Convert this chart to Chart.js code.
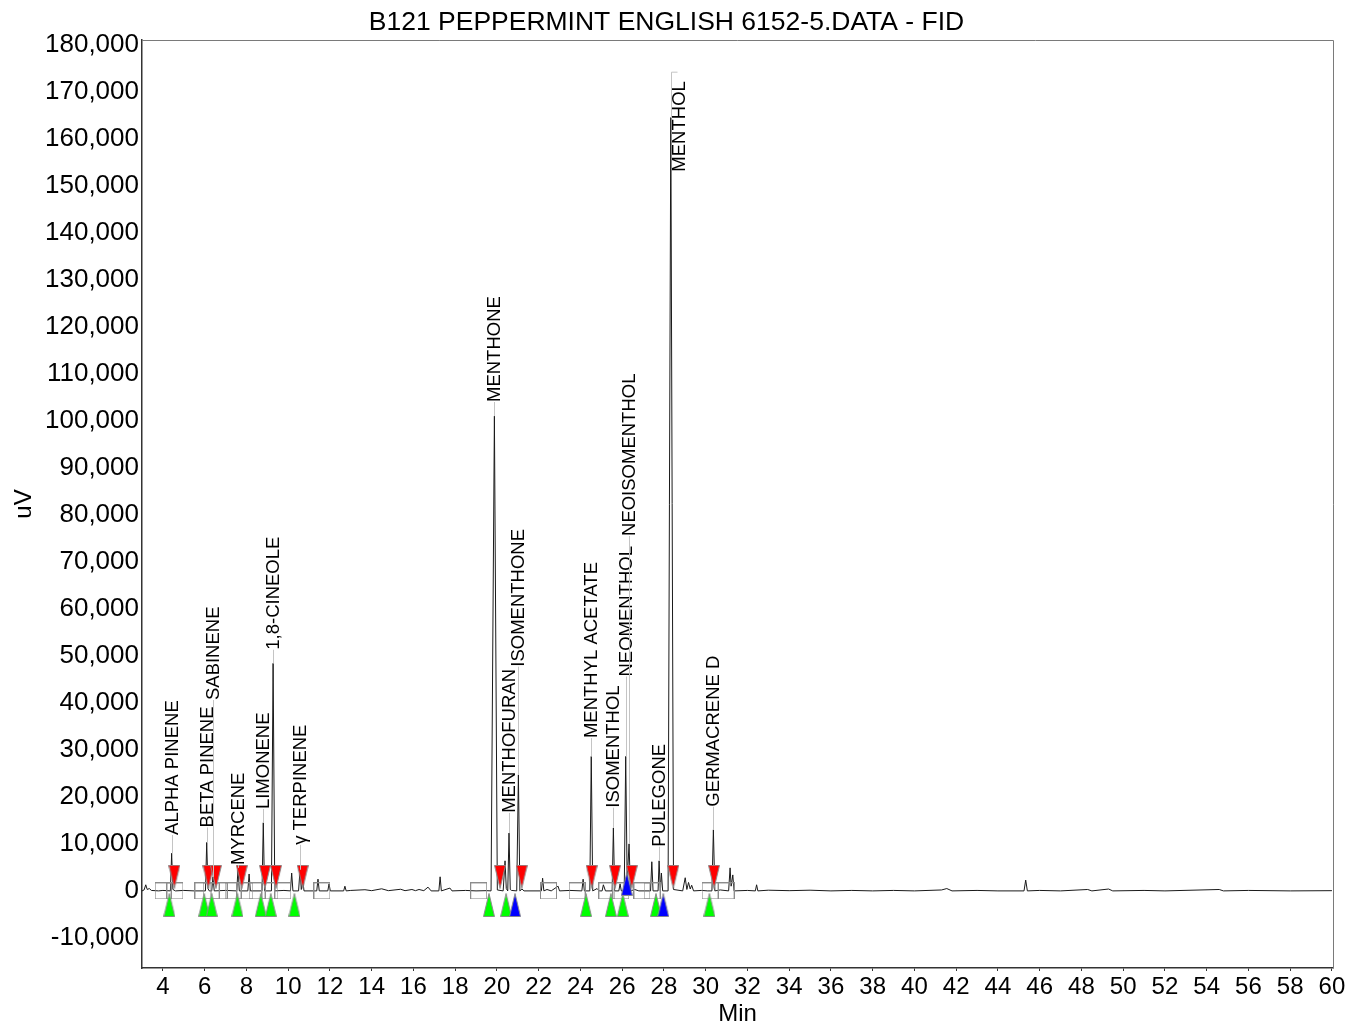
<!DOCTYPE html>
<html>
<head>
<meta charset="utf-8">
<title>B121 PEPPERMINT ENGLISH 6152-5.DATA - FID</title>
<script src="https://cdn.jsdelivr.net/npm/chart.js@4.4.1/dist/chart.umd.min.js"></script>
<style>
  html, body { margin: 0; padding: 0; background: #fff; }
</style>
</head>
<body>
<canvas id="fid" width="1349" height="1022"></canvas>
<script>
// FID trace: retention time (min) and signal (uV)
const traceTime = [
  3.00, 3.10, 3.18, 3.25, 3.35, 3.45, 3.80, 4.00,
  4.36, 4.42, 4.48, 4.60, 5.00, 5.50,
  6.04, 6.10, 6.16, 6.22, 6.34, 6.40, 6.46, 7.00,
  7.54, 7.60, 7.66, 8.07, 8.13, 8.19,
  8.75, 8.81, 8.87, 9.20, 9.28, 9.36, 9.80,
  10.11, 10.17, 10.23, 10.50, 10.57, 10.63, 10.70, 10.76,
  11.37, 11.43, 11.49, 11.90, 11.96, 12.02, 12.66, 12.72, 12.78,
  13.00, 13.68, 14.00, 14.48, 14.80, 15.39, 15.60, 15.93, 16.10, 16.27, 16.50,
  16.70, 16.85, 17.22, 17.28, 17.34, 17.75, 17.85, 18.50, 19.00, 19.50,
  19.72, 19.88, 20.02, 20.30, 20.39, 20.45, 20.52, 20.58, 20.64, 20.70,
  20.95, 21.03, 21.10, 21.20, 21.30,
  22.13, 22.19, 22.25, 22.40, 22.60, 22.93, 23.00, 23.50,
  24.07, 24.13, 24.19, 24.45, 24.52, 24.59, 24.80, 24.90,
  25.04, 25.10, 25.20, 25.52, 25.58, 25.64, 25.84, 25.90, 25.96,
  26.10, 26.17, 26.24, 26.33, 26.40, 26.60, 26.80,
  27.36, 27.42, 27.48, 27.72, 27.77, 27.83, 27.88, 27.94,
  28.20, 28.33, 28.46, 28.90, 29.02, 29.10, 29.18, 29.26, 29.33, 29.42, 29.80, 30.10,
  30.30, 30.37, 30.44, 30.70, 31.10, 31.17, 31.22, 31.30, 31.36,
  32.00, 32.38, 32.44, 32.50,
  33.00, 34.00, 35.00, 36.00, 37.00, 38.00, 39.00, 40.00, 41.30, 41.55, 41.80,
  43.00, 44.00, 45.25, 45.33, 45.41, 46.00, 47.00, 48.30, 48.50, 49.30, 49.50,
  51.00, 52.00, 54.60, 54.80, 56.00, 58.00, 60.00
];
const traceSignal = [
  0, 200, 1300, 300, 500, 100, 0, 100,
  0, 8000, 300, 0, 100, 0,
  0, 10300, 500, 0, 0, 3000, 0, 100,
  0, 4900, 0, 0, 3600, 0,
  0, 14500, 0, 0, 48400, 0, 100,
  0, 3800, 0, 0, 4500, 300, 2300, 0,
  0, 2500, 0, 0, 1500, 0, 0, 1000, 0,
  100, 250, 50, 450, 50, 350, 50, 300, 50, 300, 50,
  800, 0, 0, 3000, 0, 600, 0, 100, 0, 50,
  0, 101000, 200, 0, 6400, 500, 0, 12300, 300, 100,
  0, 24700, 0, 400, 0,
  0, 2700, 0, 300, 0, 1000, 0, 100,
  0, 2500, 0, 0, 28600, 0, 500, 0,
  0, 1300, 0, 0, 13400, 0, 0, 1500, 0,
  0, 28600, 2000, 10000, 0, 300, 0,
  0, 6200, 0, 0, 6400, 0, 3800, 0,
  0, 164500, 300, 0, 2800, 300, 1800, 400, 1200, 0, 100, 0,
  0, 13000, 0, 200, 0, 4900, 1000, 3400, 0,
  100, 0, 1300, 0,
  150, 50, 150, 0, 100, 0, 100, 0, 200, 500, 0,
  100, 0, 0, 2300, 0, 100, 0, 300, 0, 400, 0,
  100, 0, 300, 0, 100, 0, 50
];

// identified peaks
const peakNames = [
  'ALPHA PINENE', 'BETA PINENE', 'SABINENE', 'MYRCENE', 'LIMONENE', '1,8-CINEOLE',
  'γ TERPINENE', 'MENTHONE', 'MENTHOFURAN', 'ISOMENTHONE', 'MENTHYL ACETATE',
  'ISOMENTHOL', 'NEOMENTHOL', 'NEOISOMENTHOL', 'PULEGONE', 'MENTHOL', 'GERMACRENE D'
];
const peakTime = [4.42, 6.10, 6.40, 7.60, 8.81, 9.28, 10.57, 19.88, 20.58, 21.03, 24.52,
  25.58, 26.17, 26.33, 27.77, 28.33, 30.37];
const peakHeight = [8000, 10300, 3000, 4900, 14500, 48400, 4500, 101000, 12300, 24700, 28600,
  13400, 28600, 10000, 6400, 164500, 13000];
// foot of each name (uV); MENTHOL is pushed down beside its own peak
const labelFoot = [11900, 13500, 40600, 5500, 17400, 51300, 9800, 104000, 16600, 47700, 32500,
  17700, 45600, 75500, 9400, 153000, 17900];

// integration marks
const apexMarks = [4.55, 6.18, 6.54, 7.78, 8.89, 9.42, 10.70, 20.15, 21.19, 24.54, 25.66, 26.46, 28.45, 30.40];
const startMarks = [4.31, 5.98, 6.34, 7.57, 8.69, 9.17, 10.30, 19.62, 20.44, 24.27, 25.46, 26.03, 27.62, 30.18];
const dropMarks = [20.87, 27.97];
const dropUpMarks = [26.22];
const boundMarks = [4.01, 4.58, 5.92, 6.31, 6.69, 7.36, 7.93, 8.51, 9.13, 9.75, 11.62, 19.13,
  22.47, 23.84, 25.27, 25.94, 26.95, 27.43, 30.21, 30.98];

const xTickValues = [4, 6, 8, 10, 12, 14, 16, 18, 20, 22, 24, 26, 28, 30, 32, 34, 36, 38, 40,
  42, 44, 46, 48, 50, 52, 54, 56, 58, 60];
const yTickValues = [-10000, 0, 10000, 20000, 30000, 40000, 50000, 60000, 70000, 80000, 90000,
  100000, 110000, 120000, 130000, 140000, 150000, 160000, 170000, 180000];

const FONT = '"Liberation Sans", Arial, sans-serif';

function triangle(fill, down) {
  const c = document.createElement('canvas');
  c.width = 12; c.height = 24;
  const g = c.getContext('2d');
  g.beginPath();
  if (down) {
    g.moveTo(0.5, 0.5); g.lineTo(11.5, 0.5); g.lineTo(6, 23.5);
  } else {
    g.moveTo(6, 0.5); g.lineTo(11.5, 23.5); g.lineTo(0.5, 23.5);
  }
  g.closePath();
  g.fillStyle = fill; g.fill();
  g.strokeStyle = '#8c8c8c'; g.lineWidth = 1; g.stroke();
  return c;
}

function box() {
  const c = document.createElement('canvas');
  c.width = 17; c.height = 17;
  const g = c.getContext('2d');
  g.strokeStyle = '#8c8c8c'; g.lineWidth = 1;
  g.strokeRect(0.5, 0.5, 16, 16);
  return c;
}

function marks(times, level) {
  return times.map(t => ({x: t, y: level}));
}

const frame = {
  id: 'frame',
  beforeDatasetsDraw(chart) {
    const {ctx, chartArea: a} = chart;
    ctx.save();
    ctx.strokeStyle = '#7a7a7a';
    ctx.lineWidth = 1;
    ctx.beginPath();
    ctx.moveTo(a.left, a.top + 0.5); ctx.lineTo(a.right + 0.5, a.top + 0.5);
    ctx.lineTo(a.right + 0.5, a.bottom);
    ctx.stroke();
    ctx.restore();
  }
};

const peakLabels = {
  id: 'peakLabels',
  afterDatasetsDraw(chart) {
    const {ctx, scales: {x, y}} = chart;
    ctx.save();
    ctx.font = '18.5px ' + FONT;
    ctx.textBaseline = 'middle';
    ctx.textAlign = 'left';
    peakNames.forEach((name, i) => {
      const px = Math.round(x.getPixelForValue(peakTime[i])) + 0.5;
      const apex = y.getPixelForValue(peakHeight[i]);
      const foot = y.getPixelForValue(labelFoot[i]);
      let tx = px;
      ctx.strokeStyle = '#c4c4c4';
      ctx.lineWidth = 1;
      ctx.beginPath();
      if (foot < apex) {
        ctx.moveTo(px, foot); ctx.lineTo(px, apex);
      } else {
        const head = foot - ctx.measureText(name).width - 9;
        ctx.moveTo(px, apex); ctx.lineTo(px, head); ctx.lineTo(px + 6, head);
        tx = px + 8;
      }
      ctx.stroke();
      ctx.save();
      ctx.translate(tx, foot);
      ctx.rotate(-Math.PI / 2);
      ctx.fillStyle = '#000';
      ctx.fillText(name, 0, 0);
      ctx.restore();
    });
    ctx.restore();
  }
};

new Chart(document.getElementById('fid').getContext('2d'), {
  type: 'scatter',
  data: {
    datasets: [
      {
        label: 'FID',
        data: traceTime.map((t, i) => ({x: t, y: traceSignal[i]})),
        showLine: true,
        borderColor: '#1a1a1a',
        borderWidth: 1,
        pointRadius: 0,
        tension: 0,
        order: 5
      },
      {
        label: 'bounds',
        data: marks(boundMarks, 0),
        pointStyle: box(),
        order: 4
      },
      {
        label: 'apex',
        data: marks(apexMarks, 3000),
        pointStyle: triangle('#ff0000', true),
        order: 3
      },
      {
        label: 'start',
        data: marks(startMarks, -3000),
        pointStyle: triangle('#00ff00', false),
        order: 2
      },
      {
        label: 'drop',
        data: marks(dropMarks, -3000),
        pointStyle: triangle('#0000ff', false),
        order: 1
      },
      {
        label: 'drop up',
        data: marks(dropUpMarks, 1500),
        pointStyle: triangle('#0000ff', false),
        order: 1
      }
    ]
  },
  options: {
    responsive: false,
    animation: false,
    devicePixelRatio: 1,
    layout: { padding: { left: 0, right: 16, top: 0, bottom: 0 } },
    plugins: {
      legend: { display: false },
      tooltip: { enabled: false },
      title: {
        display: true,
        text: 'B121 PEPPERMINT ENGLISH 6152-5.DATA - FID',
        color: '#000',
        font: { family: FONT, size: 26.5, weight: 'normal' },
        padding: { top: 7, bottom: 1.2 }
      }
    },
    scales: {
      x: {
        type: 'linear',
        min: 3,
        max: 60.05,
        afterFit: s => { s.height = 54; },
        afterBuildTicks: s => { s.ticks = xTickValues.map(v => ({value: v})); },
        border: { display: true, color: '#333', width: 1.5 },
        grid: { display: true, drawOnChartArea: false, tickLength: 3, color: '#333' },
        ticks: {
          color: '#000',
          font: { family: FONT, size: 24 },
          padding: 2,
          maxRotation: 0,
          autoSkip: false
        },
        title: {
          display: true,
          text: 'Min',
          color: '#000',
          font: { family: FONT, size: 24 },
          padding: { top: 0, bottom: -7 }
        }
      },
      y: {
        type: 'linear',
        min: -16400,
        max: 181000,
        afterFit: s => { s.width = 142; },
        afterBuildTicks: s => { s.ticks = yTickValues.map(v => ({value: v})); },
        border: { display: true, color: '#333', width: 1.5 },
        grid: { display: false, drawTicks: false, tickLength: 0 },
        ticks: {
          color: '#000',
          font: { family: FONT, size: 26 },
          padding: 3,
          autoSkip: false
        },
        title: {
          display: true,
          text: 'uV',
          color: '#000',
          font: { family: FONT, size: 24 },
          padding: { top: 10, bottom: 0 }
        }
      }
    }
  },
  plugins: [frame, peakLabels]
});
</script>
</body>
</html>
